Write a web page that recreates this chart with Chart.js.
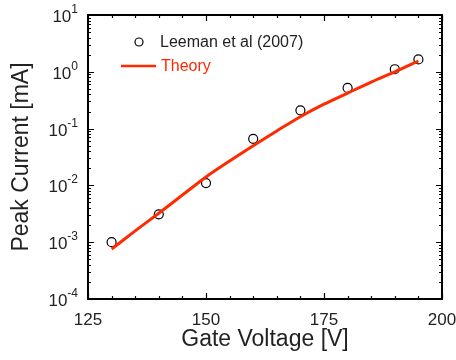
<!DOCTYPE html>
<html>
<head>
<meta charset="utf-8">
<script src="https://cdn.jsdelivr.net/npm/chart.js@4.4.1/dist/chart.umd.min.js"></script>
<style>
  html, body { margin: 0; padding: 0; background: #fff; }
  #wrap { width: 456px; height: 360px; }
</style>
</head>
<body>
<div id="wrap"><canvas id="chart" width="456" height="360"></canvas></div>
<script>
// measured points (Leeman et al 2007)
const measVoltage = [130, 140, 150, 160, 170, 180, 190, 195];
const measCurrent = [1.0e-3, 3.1e-3, 1.1e-2, 6.6e-2, 0.21, 0.52, 1.11, 1.65];

// theory curve
const theoryVoltage = [130, 135, 140, 145, 150, 155, 160, 165, 170, 175, 180, 185, 190, 195];
const theoryCurrent = [7.6e-4, 1.58e-3, 3.24e-3, 6.76e-3, 1.41e-2, 2.69e-2, 5.0e-2, 9.1e-2, 0.162, 0.269, 0.422, 0.66, 1.0, 1.55];

// axis ticks
const xMajorTicks = [125, 150, 175, 200];
const yExponents = [1, 0, -1, -2, -3, -4];

const TXT = '#222';
const RED = '#ff2a00';
const FONT = 'Arial, "Liberation Sans", sans-serif';

const framePlugin = {
  id: 'frame',
  afterDraw(chart) {
    const ctx = chart.ctx;
    const a = chart.chartArea;
    const xs = chart.scales.x, ys = chart.scales.y;
    ctx.save();

    // ticks (inward, on all four sides)
    ctx.strokeStyle = '#000';
    ctx.lineWidth = 1.2;
    ctx.beginPath();
    for (let v = 125; v <= 200; v += 5) {
      const px = Math.round(xs.getPixelForValue(v)) + 0.5;
      const len = (v % 25 === 0) ? 6 : 3;
      ctx.moveTo(px, a.bottom); ctx.lineTo(px, a.bottom - len);
      ctx.moveTo(px, a.top); ctx.lineTo(px, a.top + len);
    }
    for (let e = -4; e <= 1; e++) {
      for (let m = 1; m <= 9; m++) {
        if (e === 1 && m > 1) break;
        const py = Math.round(ys.getPixelForValue(m * Math.pow(10, e))) + 0.5;
        const len = m === 1 ? 6 : 3;
        ctx.moveTo(a.left, py); ctx.lineTo(a.left + len, py);
        ctx.moveTo(a.right, py); ctx.lineTo(a.right - len, py);
      }
    }
    ctx.stroke();

    // frame
    ctx.lineWidth = 2;
    ctx.strokeRect(a.left, a.top, a.right - a.left, a.bottom - a.top);

    // x tick labels
    ctx.fillStyle = TXT;
    ctx.font = '17px ' + FONT;
    ctx.textAlign = 'center';
    ctx.textBaseline = 'middle';
    xMajorTicks.forEach(v => {
      ctx.fillText(String(v), xs.getPixelForValue(v), a.bottom + 21);
    });

    // y tick labels with superscript exponents
    yExponents.forEach(e => {
      const py = ys.getPixelForValue(Math.pow(10, e));
      const exp = String(e);
      ctx.font = '12px ' + FONT;
      const ew = ctx.measureText(exp).width;
      const right = a.left - 10;
      ctx.textAlign = 'left';
      ctx.textBaseline = 'alphabetic';
      ctx.fillText(exp, right - ew, py - 2);
      ctx.font = '17px ' + FONT;
      ctx.textAlign = 'right';
      ctx.fillText('10', right - ew, py + 7);
    });

    // axis titles
    ctx.font = '23px ' + FONT;
    ctx.textAlign = 'center';
    ctx.textBaseline = 'middle';
    ctx.fillText('Gate Voltage [V]', (a.left + a.right) / 2, 340);
    ctx.save();
    ctx.translate(22, (a.top + a.bottom) / 2);
    ctx.rotate(-Math.PI / 2);
    ctx.fillText('Peak Current [mA]', 0, 0);
    ctx.restore();

    // legend
    ctx.font = '16px ' + FONT;
    ctx.textAlign = 'left';
    ctx.lineWidth = 1.2;
    ctx.strokeStyle = '#000';
    ctx.beginPath();
    ctx.arc(139, 42, 4, 0, Math.PI * 2);
    ctx.stroke();
    ctx.fillStyle = TXT;
    ctx.fillText('Leeman et al (2007)', 160, 43);
    ctx.strokeStyle = RED;
    ctx.lineWidth = 2.5;
    ctx.beginPath();
    ctx.moveTo(121, 66); ctx.lineTo(156, 66);
    ctx.stroke();
    ctx.fillStyle = RED;
    ctx.fillText('Theory', 161, 67);

    ctx.restore();
  }
};

new Chart(document.getElementById('chart'), {
  type: 'line',
  data: {
    datasets: [
      {
        label: 'Theory',
        data: theoryVoltage.map((v, i) => ({ x: v, y: theoryCurrent[i] })),
        borderColor: RED,
        borderWidth: 3,
        pointRadius: 0,
        cubicInterpolationMode: 'monotone',
        fill: false
      },
      {
        label: 'Leeman et al (2007)',
        type: 'scatter',
        data: measVoltage.map((v, i) => ({ x: v, y: measCurrent[i] })),
        pointRadius: 4.5,
        pointBorderWidth: 1.2,
        pointBorderColor: '#000',
        pointBackgroundColor: '#fff',
        showLine: false
      }
    ]
  },
  options: {
    responsive: false,
    animation: false,
    layout: { autoPadding: false, padding: { left: 88, right: 14, top: 15, bottom: 61 } },
    plugins: { legend: { display: false }, tooltip: { enabled: false } },
    scales: {
      x: { type: 'linear', min: 125, max: 200, display: false },
      y: { type: 'logarithmic', min: 1e-4, max: 10, display: false }
    }
  },
  plugins: [framePlugin]
});
</script>
</body>
</html>
